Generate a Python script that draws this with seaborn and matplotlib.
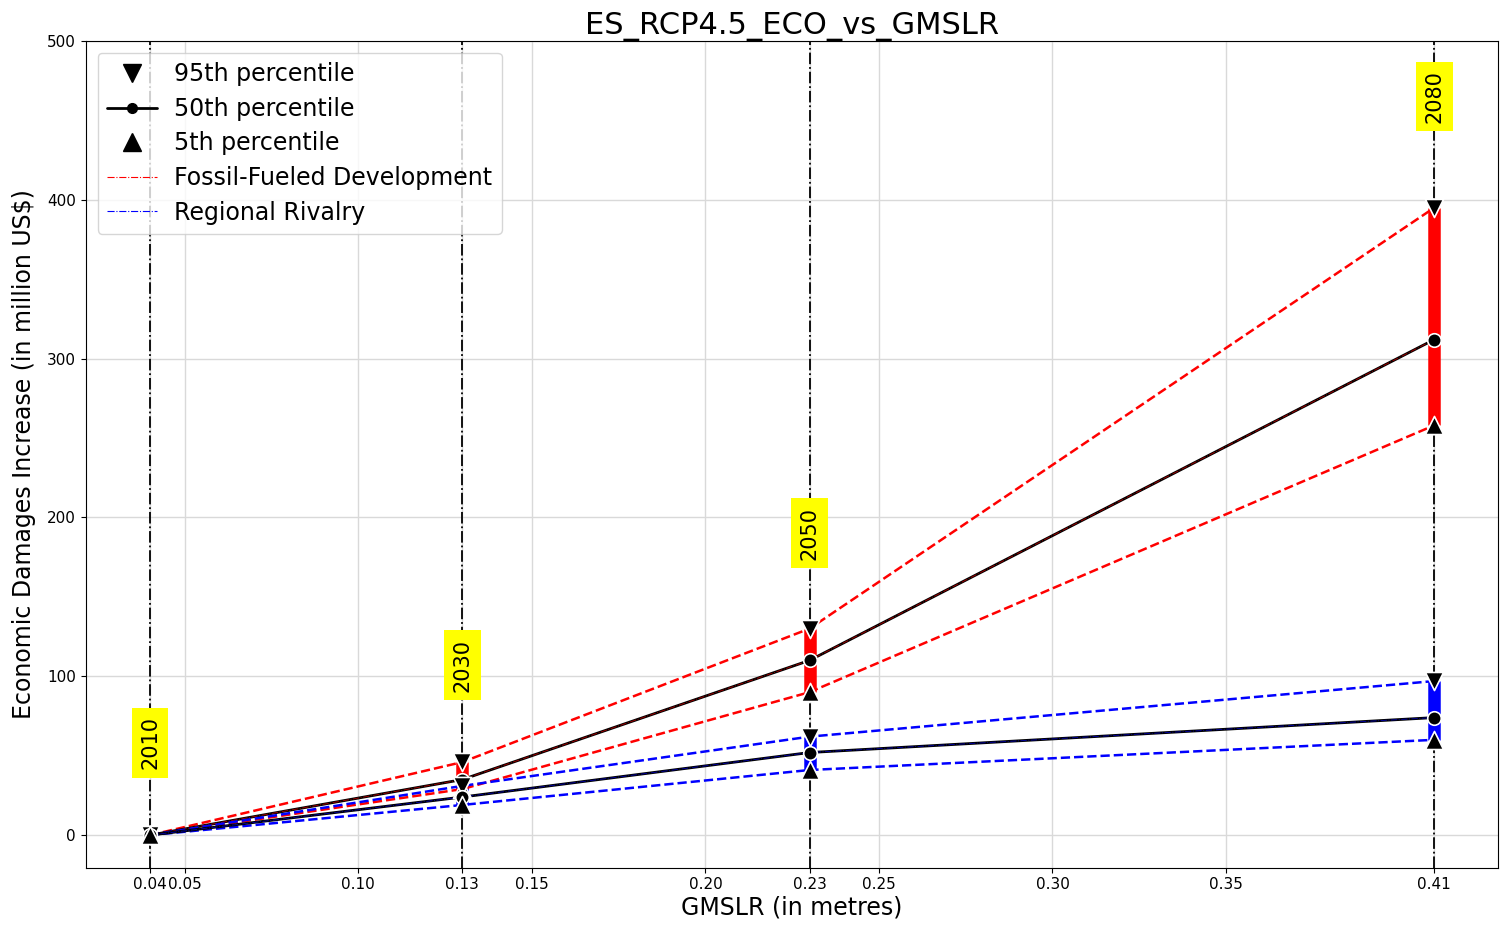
import numpy as np
import pandas as pd
import matplotlib
matplotlib.use("Agg")
import matplotlib.pyplot as plt
import seaborn as sns
from matplotlib.lines import Line2D

# data
years = ["2010", "2030", "2050", "2080"]
gmslr = [0.04, 0.13, 0.23, 0.41]

ff_p95 = [0, 46, 130, 395]
ff_p50 = [0, 35, 110, 312]
ff_p5 = [0, 29, 90, 258]

rr_p95 = [0, 31, 62, 97]
rr_p50 = [0, 24, 52, 74]
rr_p5 = [0, 19, 41, 60]

label_y = [58, 107, 190, 465]

scenarios = {
    "Fossil-Fueled Development": ("red", ff_p5, ff_p50, ff_p95),
    "Regional Rivalry": ("blue", rr_p5, rr_p50, rr_p95),
}

rows = []
for name, (col, p5, p50, p95) in scenarios.items():
    for pct, vals in (("5th", p5), ("50th", p50), ("95th", p95)):
        for x, v in zip(gmslr, vals):
            rows.append({"scenario": name, "pct": pct, "gmslr": x, "damage": v})
df = pd.DataFrame(rows)

sns.set_style("ticks")
plt.rcParams.update({"text.color": "black", "axes.labelcolor": "black",
                     "xtick.color": "black", "ytick.color": "black",
                     "axes.edgecolor": "black"})
fig, ax = plt.subplots(figsize=(15.06, 9.3), dpi=100)
fig.subplots_adjust(left=0.057, right=0.995, top=0.956, bottom=0.067)
ax.grid(True, color="#d9d9d9", lw=1)

# vertical year lines
for x in gmslr:
    ax.axvline(x, color="black", ls="-.", lw=1.3, zorder=2)

for name, (col, p5, p50, p95) in scenarios.items():
    sub = df[df.scenario == name]
    # spread bars
    ax.vlines(gmslr, p5, p95, color=col, lw=9, zorder=3)
    for pct in ("95th", "5th"):
        d = sub[sub.pct == pct]
        sns.lineplot(data=d, x="gmslr", y="damage", color=col, lw=1.8,
                     linestyle="--", ax=ax, zorder=4)
    d = sub[sub.pct == "50th"]
    sns.lineplot(data=d, x="gmslr", y="damage", color="black", lw=2.0,
                 ax=ax, zorder=4)
    sns.lineplot(data=d, x="gmslr", y="damage", color=col, lw=0.7,
                 linestyle="-.", ax=ax, zorder=4, alpha=0.6)
    for pct, m in (("95th", "v"), ("50th", "o"), ("5th", "^")):
        d = sub[sub.pct == pct]
        ax.scatter(d.gmslr, d.damage, marker=m, s=170 if m != "o" else 95,
                   color="black", edgecolor="white", linewidth=1.2, zorder=5)

for x, y, yr in zip(gmslr, label_y, years):
    ax.text(x, y, yr, rotation=90, ha="center", va="center", fontsize=15,
            bbox=dict(facecolor="yellow", edgecolor="none", pad=6), zorder=6)

ticks = sorted(set([0.05, 0.10, 0.15, 0.20, 0.25, 0.30, 0.35] + gmslr))
ax.set_xticks(ticks)
ax.set_xticklabels([f"{t:.2f}" for t in ticks], fontsize=11)
ax.set_yticks([0, 100, 200, 300, 400, 500])
ax.tick_params(axis="y", labelsize=11)
ax.set_xlim(0.0215, 0.4285)
ax.set_ylim(-20.5, 500)

ax.set_title("ES_RCP4.5_ECO_vs_GMSLR", fontsize=22, pad=4)
ax.set_xlabel("GMSLR (in metres)", fontsize=17, labelpad=2)
ax.set_ylabel("Economic Damages Increase (in million US$)", fontsize=17, labelpad=8)

handles = [
    Line2D([], [], color="black", marker="v", ls="none", markersize=13),
    Line2D([], [], color="black", marker="o", ls="-", lw=2, markersize=7),
    Line2D([], [], color="black", marker="^", ls="none", markersize=13),
    Line2D([], [], color="red", ls="-.", lw=0.8),
    Line2D([], [], color="blue", ls="-.", lw=0.8),
]
labels = ["95th percentile", "50th percentile", "5th percentile",
          "Fossil-Fueled Development", "Regional Rivalry"]
ax.legend(handles, labels, loc="upper left", fontsize=17, frameon=True,
          handlelength=2.1, handletextpad=0.75, labelspacing=0.45)

fig.savefig("out.png", dpi=100)
